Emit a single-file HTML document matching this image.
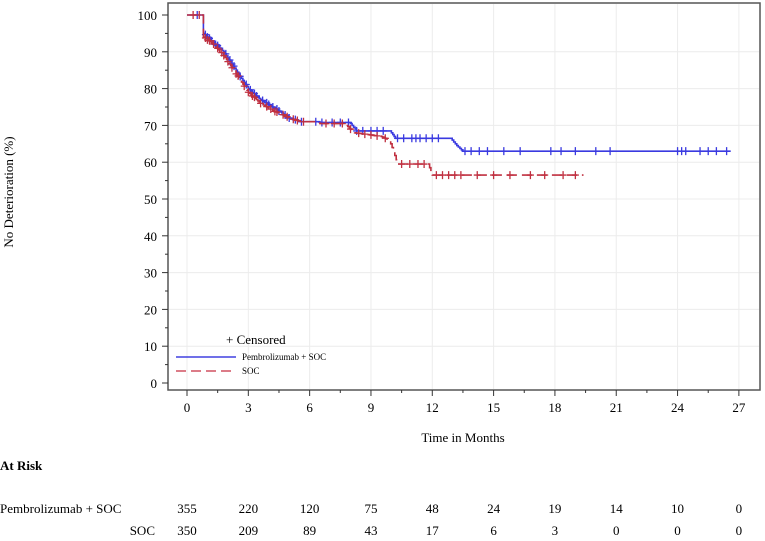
<!DOCTYPE html>
<html><head><meta charset="utf-8"><style>
body{margin:0;background:#fff;width:765px;height:541px;overflow:hidden;font-family:"Liberation Serif",serif;}
svg{position:absolute;left:0;top:0}
</style></head><body>
<svg id="s" width="765" height="541" xmlns="http://www.w3.org/2000/svg" font-family="Liberation Serif, serif" fill="#000">
<rect x="168" y="3" width="592" height="387" fill="#fff" stroke="#555" stroke-width="1.5"/>
<g id="grid" stroke="#ececec" stroke-width="1"></g>
<g id="ax"></g>
<g id="curves"></g>
<text x="226" y="344" font-size="13">+ Censored</text>
<line x1="176" y1="357" x2="236" y2="357" stroke="#4040e0" stroke-width="1.5"/>
<text x="242" y="360" font-size="9">Pembrolizumab + SOC</text>
<line x1="176" y1="371" x2="236" y2="371" stroke="#d05060" stroke-width="1.5" stroke-dasharray="10,5"/>
<text x="242" y="374" font-size="9">SOC</text>
<text x="463" y="442" font-size="13" text-anchor="middle">Time in Months</text>
<text transform="translate(13,192) rotate(-90)" font-size="13" text-anchor="middle">No Deterioration (%)</text>
<text x="0" y="470" font-size="13" font-weight="bold">At Risk</text>
<text x="0" y="513" font-size="13">Pembrolizumab + SOC</text>
<text x="155" y="535" font-size="13" text-anchor="end">SOC</text>
<g id="risk" font-size="13" text-anchor="middle"></g>
</svg>
<script>
var X=t=>187+t*20.44, Y=v=>383-v*3.68, NS="http://www.w3.org/2000/svg";
function el(p,n,a,txt){var e=document.createElementNS(NS,n);for(var k in a)e.setAttribute(k,a[k]);if(txt!=null)e.textContent=txt;document.getElementById(p).appendChild(e);}
for(var t=0;t<=27;t+=3){el('grid','line',{x1:X(t),y1:4,x2:X(t),y2:389});
 el('ax','line',{x1:X(t),y1:390,x2:X(t),y2:396,stroke:'#333'});
 el('ax','text',{x:X(t),y:412,'font-size':13,'text-anchor':'middle'},t);}
for(t=1.5;t<27;t+=3)el('ax','line',{x1:X(t),y1:390,x2:X(t),y2:393,stroke:'#333'});
for(var v=0;v<=100;v+=10){if(v>0&&v<100)el('grid','line',{x1:169,y1:Y(v),x2:759,y2:Y(v)});
 el('ax','line',{x1:162,y1:Y(v),x2:168,y2:Y(v),stroke:'#333'});
 el('ax','text',{x:157,y:Y(v)+5,'font-size':13,'text-anchor':'end'},v);}
for(v=5;v<100;v+=10)el('ax','line',{x1:165,y1:Y(v),x2:168,y2:Y(v),stroke:'#333'});
// knots; between consecutive knots interpolate with small steps when flagged
var blue=[[0,100],[0.75,100],[0.8,95],[1.2,93],[1.8,90],[2.4,85],[3,80],[3.6,77],[4.2,75],[5,72],[5.6,71],[6.5,70.8],[8,70.5],[8.3,68.5],[10,68],[10.2,66.5],[12.9,66.5],[13.2,64.5],[13.5,63],[26.6,63]];
var red=[[0,100],[0.75,100],[0.8,94],[1.2,92.5],[1.8,89],[2.4,84],[3,79],[3.6,76],[4.2,74],[5,72],[5.6,71],[6.5,70.5],[7.8,70],[8.2,68],[9.5,67],[9.9,66],[10.1,63],[10.3,59.5],[11.8,59.5],[12,56.5],[19.4,56.5]];
function dense(d){var o=[d[0],d[1]];for(var i=2;i<d.length;i++){var a=d[i-1],b=d[i];
 var n=(a[1]-b[1]>0.6&&b[0]-a[0]<1.6)?Math.max(1,Math.round((b[0]-a[0])/0.07)):1;
 for(var k=1;k<=n;k++)o.push([a[0]+(b[0]-a[0])*k/n,a[1]+(b[1]-a[1])*k/n]);}return o;}
blue=dense(blue);red=dense(red);
function surv(d,t){var v=d[0][1];for(var i=0;i<d.length;i++)if(d[i][0]<=t)v=d[i][1];return v;}
function draw(d,col,dash,cens){var p='M'+X(d[0][0])+','+Y(d[0][1]);
 for(var i=1;i<d.length;i++){p+='H'+X(d[i][0]).toFixed(1)+'V'+Y(d[i][1]).toFixed(1);}
 var a={d:p,fill:'none',stroke:col,'stroke-width':1.6};if(dash)a['stroke-dasharray']=dash;el('curves','path',a);
 cens.forEach(function(t){var x=X(t),y=Y(surv(d,t));el('curves','path',{d:'M'+(x-3.5)+','+y+'h7M'+x+','+(y-4)+'v8',stroke:col,'stroke-width':1.3});});}
var cb=[0.5,0.9,1,1.1,1.2,1.4,1.5,1.6,1.9,2.1,2.2,2.3,2.6,2.9,3.1,3.3,3.4,3.7,3.9,4,4.2,4.4,4.5,4.8,5,5.3,5.6,6.3,6.6,7.1,7.5,7.9,8.3,8.6,9,9.3,9.6,10.3,10.6,11,11.2,11.4,11.7,12,12.3,13.6,13.9,14.3,14.7,15.5,16.3,17.8,18.3,19,20,20.7,24,24.2,24.4,25.1,25.5,25.9,26.4];
var cr=[0.3,0.6,0.9,1.0,1.1,1.3,1.5,1.7,1.8,2,2.2,2.4,2.5,2.8,3,3.2,3.3,3.6,3.9,4.1,4.3,4.4,4.7,4.9,5.2,5.4,5.7,6.8,7.2,7.6,8,8.4,8.7,9,9.3,9.7,10.5,10.9,11.3,11.6,12.2,12.5,12.8,13.1,13.4,14.2,15,15.8,16.8,17.5,18.4,19];
draw(blue,'#3a3ae0',null,cb);draw(red,'#c03040','10,5',cr);
var r1=[355,220,120,75,48,24,19,14,10,0],r2=[350,209,89,43,17,6,3,0,0,0];
for(var i=0;i<10;i++){el('risk','text',{x:X(i*3),y:513},r1[i]);el('risk','text',{x:X(i*3),y:535},r2[i]);}
</script>
</body></html>
